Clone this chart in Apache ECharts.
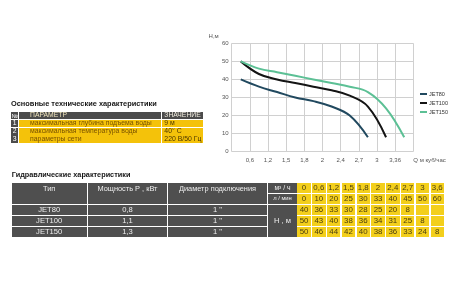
<!DOCTYPE html>
<html><head><meta charset="utf-8">
<script src="https://cdn.jsdelivr.net/npm/echarts@6/dist/echarts.min.js"></script>
<style>
html,body{margin:0;padding:0;background:#fff;width:460px;height:288px;overflow:hidden;}
#chart{position:absolute;left:0;top:0;width:460px;height:288px;}
#tables{position:absolute;left:0;top:0;width:460px;height:288px;font-family:"Liberation Sans",Arial,sans-serif;pointer-events:none;}
.c{position:absolute;box-sizing:border-box;white-space:nowrap;overflow:hidden;display:flex;align-items:center;line-height:1;}
.t{position:absolute;white-space:nowrap;font-weight:bold;color:#161616;line-height:1;}
</style></head><body>
<div id="chart"></div><div id="tables"></div>
<script>
// ---------- data ----------
const flowCategories = ['0','0,6','1,2','1,5','1,8','2','2,4','2,7','3','3,6'];
const flowLpm = ['0','10','20','25','30','33','40','45','50','60'];
const axisTickLabels = ['','0,6','1,2','1,5','1,8','2','2,4','2,7','3','3,36',''];
const xAxisName = 'Q м куб/час';
const yAxisName = 'H,м';
const seriesNames = ['JET80','JET100','JET150'];
const jet80 = [40,36,33,30,28,25,20,8];
const jet100 = [50,43,40,38,36,34,31,25,8];
const jet150 = [50,46,44,42,40,38,36,33,24,8];
const pumpPower = ['0,8','1,1','1,3'];
const pumpDiameter = ['1 "','1 "','1 "'];
const mainTitle = 'Основные технические характеристики';
const mainHeader = ['№','ПАРАМЕТР','ЗНАЧЕНИЕ'];
const mainNumbers = ['1','2','3'];
const mainParams = ['максимальная глубина подъема воды','максимальная температура воды','параметры сети'];
const mainValues = ['9 м','40° C','220 В/50 Гц'];
const hydTitle = 'Гидравлические характеристики';
const hydHeader = ['Тип','Мощность Р , кВт','Диаметр подключения'];
const unitLabels = ['м³ / ч','л / мин','Н , м'];

// ---------- chart ----------
const colors = ['#21495f','#141414','#5cc095'];
const seriesData = [jet80, jet100, jet150];
const chart = echarts.init(document.getElementById('chart'), null, {renderer:'canvas'});
chart.setOption({
  animation:false,
  grid:{left:231.7,right:46.7,top:43.3,bottom:136.3,outerBoundsMode:'none'},
  legend:{
    orient:'vertical',left:415,top:85.5,
    itemWidth:7,itemHeight:2,itemGap:2,icon:'rect',
    textStyle:{fontSize:5.5,lineHeight:7,color:'#333',padding:[0,0,0,-3]},
    data:seriesNames
  },
  xAxis:[
    {type:'category',data:flowCategories,boundaryGap:true,show:false},
    {type:'category',data:axisTickLabels,boundaryGap:false,position:'bottom',
     axisLine:{show:false},axisTick:{show:false},
     axisLabel:{fontSize:6,color:'#555',margin:6,interval:0},
     splitLine:{show:true,interval:0,lineStyle:{color:'#d0d0d0',width:1}},
     name:xAxisName,nameLocation:'end',nameGap:0,
     nameTextStyle:{fontSize:6,color:'#555',align:'left',verticalAlign:'top',padding:[6,0,0,0]}}
  ],
  yAxis:{type:'value',min:0,max:60,interval:10,
    axisLine:{show:false},axisTick:{show:false},
    axisLabel:{fontSize:6,color:'#555',margin:3},
    splitLine:{lineStyle:{color:'#d0d0d0',width:1}},
    name:yAxisName,nameLocation:'end',nameGap:4,
    nameTextStyle:{fontSize:6,color:'#555',align:'right',verticalAlign:'bottom',padding:[0,13,0,0]}},
  series:seriesNames.map((n,i)=>({
    name:n,type:'line',xAxisIndex:0,data:seriesData[i],smooth:0.4,
    symbol:'none',lineStyle:{width:2,color:colors[i]},itemStyle:{color:colors[i]}
  }))
});

// ---------- tables ----------
const root = document.getElementById('tables');
function cell(x,y,w,h,text,o){
  o=o||{};
  const d=document.createElement('div');
  d.className='c';
  d.style.left=x+'px';d.style.top=y+'px';d.style.width=w+'px';d.style.height=h+'px';
  d.style.background=o.bg||'#4b4b4b';
  d.style.color=o.color||'#fff';
  d.style.fontSize=(o.fs||7)+'px';
  d.style.justifyContent=o.align||'center';
  if(o.valign) d.style.alignItems=o.valign;
  if(o.pl!=null) d.style.paddingLeft=o.pl+'px';
  if(o.pt!=null) d.style.paddingTop=o.pt+'px';
  d.textContent=text;
  root.appendChild(d);
}
function title(x,y,text,fs){
  const d=document.createElement('div');d.className='t';
  d.style.left=x+'px';d.style.top=y+'px';d.style.fontSize=fs+'px';d.textContent=text;root.appendChild(d);
}
// table 1
title(11,100.3,mainTitle,7.4);
const t1cols=[[11,7.3],[19,142.3],[162.3,41]];
const t1rows=[112,120,127.7,135.4];
const t1h=7.2;
const yel1='#f4c20a';
cell(t1cols[0][0],t1rows[0],t1cols[0][1],t1h,mainHeader[0],{fs:6});
cell(t1cols[1][0],t1rows[0],t1cols[1][1],t1h,mainHeader[1],{fs:6.8,align:'flex-start',pl:11,color:'#f1e6bd'});
cell(t1cols[2][0],t1rows[0],t1cols[2][1],t1h,mainHeader[2],{fs:6.8,align:'flex-start',pl:2,color:'#f4efe0'});
for(let i=0;i<3;i++){
  const y=t1rows[i+1];
  cell(t1cols[0][0],y,t1cols[0][1],t1h,mainNumbers[i],{fs:6.8});
  cell(t1cols[1][0],y,t1cols[1][1],t1h,mainParams[i],{fs:6.9,align:'flex-start',pl:11,bg:yel1,color:'#7a5300'});
  cell(t1cols[2][0],y,t1cols[2][1],t1h,mainValues[i],{fs:6.9,align:'flex-start',pl:2,bg:yel1,color:'#4e3800'});
}
// table 2
title(11.7,171.3,hydTitle,7.3);
const t2cols=[[11.7,75],[88.3,78.4],[168.3,98.4],[268.3,28.4]];
const numX0=297.3, numPitch=14.8, numW=13.5;
const t2rows=[183.3,194.3,205.3,216.3,227.3];
const t2h=9.5;
const dark2='#4f4f4f';
for(let c=0;c<3;c++){
  cell(t2cols[c][0],t2rows[0],t2cols[c][1],t2rows[1]+t2h-t2rows[0],hydHeader[c],{fs:7.4,valign:'flex-start',pt:2,bg:dark2,color:'#eee'});
}
cell(t2cols[3][0],t2rows[0],t2cols[3][1],t2h,unitLabels[0],{fs:6.8,bg:dark2,color:'#eee'});
cell(t2cols[3][0],t2rows[1],t2cols[3][1],t2h,unitLabels[1],{fs:5.8,bg:dark2,color:'#eee'});
cell(t2cols[3][0],t2rows[2],t2cols[3][1],t2rows[4]+t2h-t2rows[2],unitLabels[2],{fs:7.6,bg:dark2,color:'#eee'});
for(let r=0;r<3;r++){
  const y=t2rows[r+2];
  cell(t2cols[0][0],y,t2cols[0][1],t2h,seriesNames[r],{fs:7.6,bg:dark2,color:'#eee'});
  cell(t2cols[1][0],y,t2cols[1][1],t2h,pumpPower[r],{fs:7.6,bg:dark2,color:'#eee'});
  cell(t2cols[2][0],y,t2cols[2][1],t2h,pumpDiameter[r],{fs:7.6,bg:dark2,color:'#eee'});
}
const numRows=[flowCategories,flowLpm,jet80,jet100,jet150];
const yel2='#f3cf1c';
for(let r=0;r<5;r++){
  for(let c=0;c<10;c++){
    const v=numRows[r][c];
    cell(numX0+c*numPitch,t2rows[r],numW,t2h,v==null?'':String(v),{fs:7.9,bg:yel2,color:'#4a3d10'});
  }
}
</script>
</body></html>
